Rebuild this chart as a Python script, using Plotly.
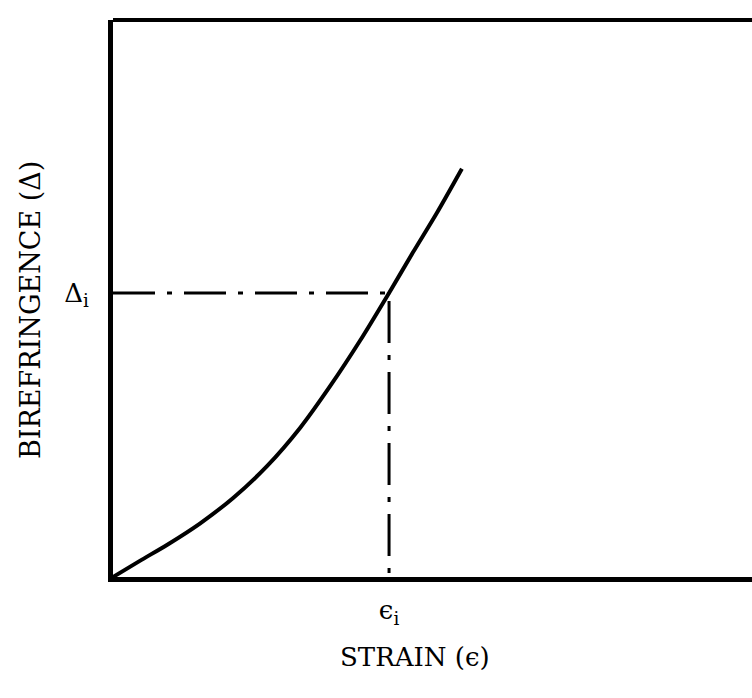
import plotly.graph_objects as go

# Curve (arbitrary units, axes 0..10)
strain = [0.0, 0.42, 0.85, 1.36, 1.88, 2.41, 2.93, 3.40, 3.87, 4.32, 4.69, 5.07, 5.46]
biref = [0.0, 0.29, 0.58, 0.96, 1.42, 1.99, 2.68, 3.43, 4.25, 5.10, 5.82, 6.54, 7.33]

eps_i = 4.32
delta_i = 5.10

x_tick_labels = ["ϵ<sub>i</sub>"]
y_tick_labels = ["Δ<sub>i</sub>"]

x_title = "STRAIN (ϵ)"
y_title = "BIREFRINGENCE (Δ)"

FONT = "DejaVu Serif"

fig = go.Figure()

fig.add_trace(go.Scatter(
    x=[0, eps_i, eps_i], y=[delta_i, delta_i, 0],
    mode="lines", line=dict(color="black", width=3, dash="42px,12px,5px,12px"),
    hoverinfo="skip", showlegend=False,
))
fig.add_trace(go.Scatter(
    x=strain, y=biref, mode="lines",
    line=dict(color="black", width=4, shape="spline", smoothing=0.8),
    showlegend=False,
))

fig.update_layout(
    width=752, height=698,
    margin=dict(l=113, r=0, t=20, b=121),
    paper_bgcolor="white", plot_bgcolor="white",
    font=dict(family=FONT, color="black", size=24),
    xaxis=dict(range=[0, 10], showgrid=False, zeroline=False,
               showline=True, linecolor="black", linewidth=5,
               tickvals=[eps_i], ticktext=x_tick_labels, ticks="",
               ticklabelstandoff=6, tickfont=dict(size=26, family=FONT)),
    yaxis=dict(range=[0, 10], showgrid=False, zeroline=False,
               showline=True, linecolor="black", linewidth=5,
               tickvals=[delta_i], ticktext=y_tick_labels, ticks="",
               ticklabelstandoff=14, tickfont=dict(size=26, family=FONT)),
    shapes=[dict(type="line", xref="paper", yref="paper", x0=0, x1=1, y0=1, y1=1,
                 line=dict(color="black", width=4))],
    annotations=[
        dict(text=x_title, xref="paper", yref="paper", x=(415 - 113) / 639,
             y=-(657 - 577) / 557, xanchor="center", yanchor="middle",
             showarrow=False, font=dict(size=26, family=FONT)),
        dict(text=y_title, xref="paper", yref="paper", x=-(113 - 31) / 639,
             y=(577 - 310) / 557, xanchor="center", yanchor="middle",
             textangle=-90, showarrow=False, font=dict(size=27, family=FONT)),
    ],
)

fig.write_html("out.html", config={"displayModeBar": False},
               post_script="document.body.style.margin='0';document.body.style.overflow='hidden';")
